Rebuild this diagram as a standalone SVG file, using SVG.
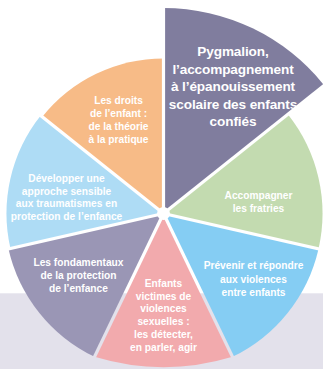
<svg xmlns="http://www.w3.org/2000/svg" width="323" height="369" viewBox="0 0 323 369">
<style>
.lbl{font-family:"Liberation Sans",Arial,sans-serif;font-weight:bold;fill:#fff;text-anchor:middle;font-size:10.2px}
.big{font-size:13.6px;letter-spacing:-0.12px}
</style>
<defs>
<mask id="gaps" maskUnits="userSpaceOnUse" x="0" y="0" width="323" height="369">
<rect width="323" height="369" fill="#fff"/>
<g stroke="#000" stroke-width="3.2" stroke-linecap="butt">
<line x1="163.5" y1="213.5" x2="163.5" y2="-46.5"/>
<line x1="163.5" y1="213.5" x2="366.8" y2="51.4"/>
<line x1="163.5" y1="213.5" x2="417" y2="271.4"/>
<line x1="163.5" y1="213.5" x2="276.3" y2="447.8"/>
<line x1="163.5" y1="213.5" x2="50.7" y2="447.8"/>
<line x1="163.5" y1="213.5" x2="-90" y2="271.4"/>
<line x1="163.5" y1="213.5" x2="-39.8" y2="51.4"/>
</g>
<circle cx="163.5" cy="213.5" r="6.5" fill="#000"/>
</mask>
</defs>
<rect x="0" y="0" width="323" height="369" fill="#fff"/>
<rect x="0" y="293.3" width="323" height="75.7" fill="#e3e1eb"/>
<g mask="url(#gaps)">
<g id="pygmalion">
<path d="M163.5,213.5 L163.5,8 A205.5,205.5 0 0 1 324.17,85.37 Z" fill="#807d9e"/>
</g>
<g id="fratries">
<path d="M163.5,213.5 L287.81,114.37 A159,159 0 0 1 318.51,248.88 Z" fill="#c3dbb0"/>
</g>
<g id="violences-entre-enfants">
<path d="M163.5,213.5 L318.51,248.88 A159,159 0 0 1 232.49,356.75 Z" fill="#85cdf3"/>
</g>
<g id="violences-sexuelles">
<path d="M163.5,213.5 L232.49,356.75 A238,238 0 0 1 94.51,356.75 Z" fill="#f2aaad"/>
</g>
<g id="fondamentaux">
<path d="M163.5,213.5 L94.51,356.75 A159,159 0 0 1 8.49,248.88 Z" fill="#9a96b5"/>
</g>
<g id="traumatismes">
<path d="M163.5,213.5 L10.44,248.44 A157,157 0 0 1 40.75,115.61 Z" fill="#aedcf5"/>
</g>
<g id="droits">
<path d="M163.5,213.5 L42.32,116.86 A155,155 0 0 1 163.5,58.5 Z" fill="#f7bb87"/>
</g>
</g>
<g id="labels">
<text class="lbl big" x="233" y="56">Pygmalion,</text>
<text class="lbl big" x="233" y="73.6">l’accompagnement</text>
<text class="lbl big" x="233" y="91.2">à l’épanouissement</text>
<text class="lbl big" x="233" y="108.8">scolaire des enfants</text>
<text class="lbl big" x="233" y="126.4">confiés</text>

<text class="lbl" x="118.5" y="104">Les droits</text>
<text class="lbl" x="118.5" y="116.9">de l’enfant :</text>
<text class="lbl" x="118.5" y="129.8">de la théorie</text>
<text class="lbl" x="118.5" y="142.7">à la pratique</text>

<text class="lbl" x="66.5" y="181.7">Développer une</text>
<text class="lbl" x="66.5" y="194.5">approche sensible</text>
<text class="lbl" x="66.5" y="207.3">aux traumatismes en</text>
<text class="lbl" x="66.5" y="220.1">protection de l’enfance</text>

<text class="lbl" x="258.5" y="199">Accompagner</text>
<text class="lbl" x="258.5" y="211.8">les fratries</text>

<text class="lbl" x="78.5" y="266">Les fondamentaux</text>
<text class="lbl" x="78.5" y="278.8">de la protection</text>
<text class="lbl" x="78.5" y="291.6">de l’enfance</text>

<text class="lbl" x="253.5" y="269.3">Prévenir et répondre</text>
<text class="lbl" x="253.5" y="282.6">aux violences</text>
<text class="lbl" x="253.5" y="295.9">entre enfants</text>

<text class="lbl" x="163.5" y="286.6">Enfants</text>
<text class="lbl" x="163.5" y="299.5">victimes de</text>
<text class="lbl" x="163.5" y="312.4">violences</text>
<text class="lbl" x="163.5" y="325.3">sexuelles :</text>
<text class="lbl" x="163.5" y="338.2">les détecter,</text>
<text class="lbl" x="163.5" y="351.1">en parler, agir</text>
</g>
</svg>
